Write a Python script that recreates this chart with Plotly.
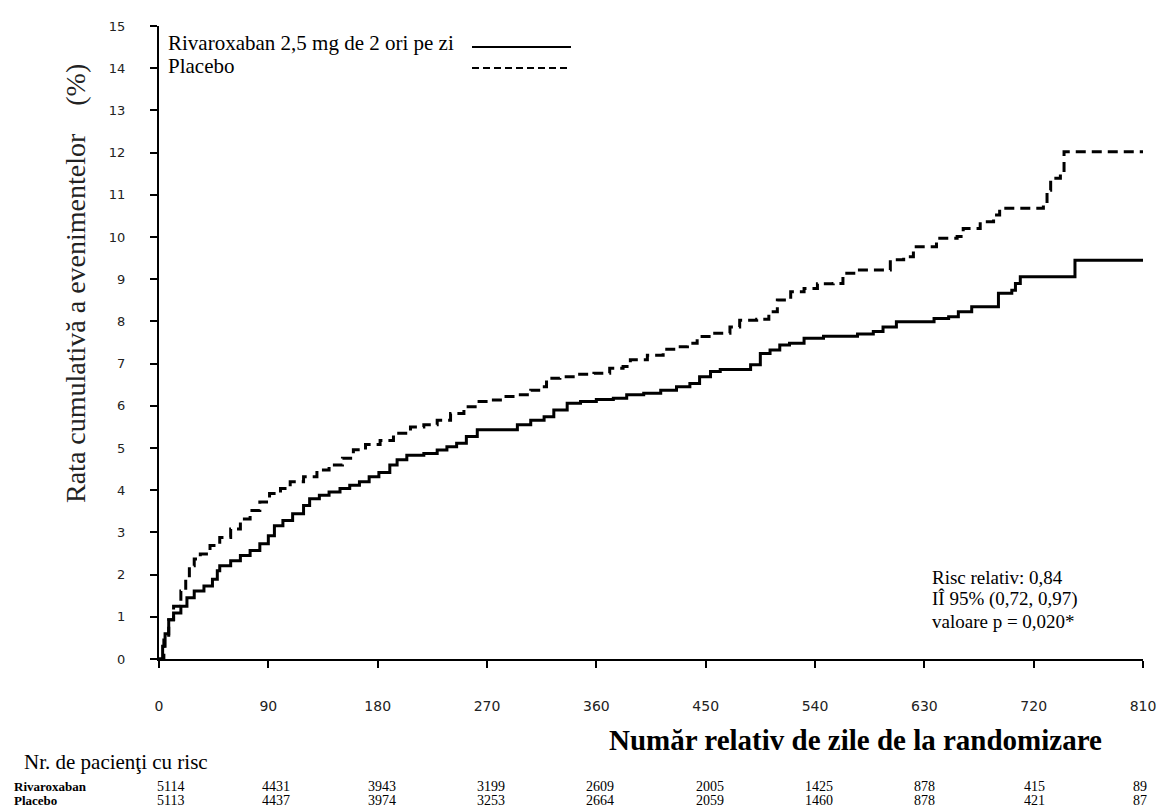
import plotly.graph_objects as go

# ---------------- data ----------------
riva_days = [0, 3, 5, 8, 12, 18, 23, 29, 37, 44, 48, 50, 59, 67, 75, 83, 90, 95, 102, 110,
             119, 124, 132, 140, 149, 157, 165, 173, 181, 190, 196, 204, 218, 229, 237, 245,
             253, 262, 295, 306, 317, 325, 336, 347, 360, 374, 385, 399, 413, 426, 437, 445,
             454, 462, 487, 495, 503, 511, 519, 531, 547, 575, 588, 596, 607, 638, 650, 658,
             669, 691, 702, 705, 709, 754, 810]
riva_rate = [0, 0.30, 0.60, 0.93, 1.09, 1.25, 1.45, 1.61, 1.73, 1.89, 2.09, 2.21, 2.33, 2.45,
             2.57, 2.73, 2.92, 3.16, 3.28, 3.44, 3.64, 3.80, 3.88, 3.96, 4.04, 4.12, 4.20, 4.32,
             4.42, 4.60, 4.72, 4.83, 4.87, 4.95, 5.03, 5.11, 5.27, 5.43, 5.55, 5.66, 5.74, 5.90,
             6.06, 6.10, 6.15, 6.18, 6.26, 6.30, 6.37, 6.45, 6.53, 6.69, 6.81, 6.86, 6.97, 7.24,
             7.32, 7.44, 7.48, 7.60, 7.65, 7.70, 7.76, 7.87, 7.99, 8.07, 8.11, 8.23, 8.35, 8.67,
             8.74, 8.90, 9.06, 9.45, 9.45]

plac_days = [0, 4, 8, 12, 18, 22, 25, 29, 34, 42, 50, 59, 67, 75, 83, 91, 100, 108, 119, 130,
             140, 151, 160, 170, 182, 193, 207, 218, 229, 240, 251, 262, 273, 284, 295, 306, 314,
             319, 330, 344, 358, 371, 382, 388, 402, 415, 426, 435, 443, 456, 470, 478, 492, 502,
             509, 520, 531, 542, 555, 563, 575, 602, 613, 621, 640, 657, 662, 676, 687, 692, 728,
             731, 734, 742, 745, 810]
plac_rate = [0, 0.45, 0.93, 1.25, 1.61, 1.97, 2.21, 2.37, 2.49, 2.69, 2.88, 3.08, 3.32, 3.52,
             3.72, 3.92, 4.04, 4.20, 4.32, 4.48, 4.60, 4.76, 4.96, 5.08, 5.18, 5.35, 5.50, 5.55,
             5.66, 5.82, 5.98, 6.10, 6.14, 6.22, 6.26, 6.37, 6.45, 6.65, 6.69, 6.75, 6.77, 6.89,
             6.93, 7.09, 7.20, 7.34, 7.40, 7.48, 7.64, 7.72, 7.87, 8.03, 8.05, 8.23, 8.51, 8.70,
             8.78, 8.89, 8.90, 9.14, 9.22, 9.46, 9.53, 9.77, 9.97, 10.01, 10.20, 10.36, 10.52,
             10.68, 10.84, 11.11, 11.39, 11.51, 12.02, 12.02]

x_ticks = [0, 90, 180, 270, 360, 450, 540, 630, 720, 810]
y_ticks = list(range(0, 16))
riva_at_risk = [5114, 4431, 3943, 3199, 2609, 2005, 1425, 878, 415, 89]
plac_at_risk = [5113, 4437, 3974, 3253, 2664, 2059, 1460, 878, 421, 87]

legend_riva = "Rivaroxaban 2,5 mg de 2 ori pe zi"
legend_plac = "Placebo"
y_title = "Rata cumulativă a evenimentelor    (%)"
x_title = "Număr relativ de zile de la randomizare"
risk_title = "Nr. de pacienţi cu risc"
stats_lines = ["Risc relativ: 0,84", "IÎ 95% (0,72, 0,97)", "valoare p = 0,020*"]

# ---------------- layout helpers (pixel -> paper) ----------------
W, H = 1174, 808
L, R, T, B = 159, 31, 26, 149
PW, PH = W - L - R, H - T - B


def px(x):
    return (x - L) / PW


def py(y):
    return (H - B - y) / PH


SERIF = "Liberation Serif, Times New Roman, serif"
TICKF = "DejaVu Sans, Verdana, sans-serif"

fig = go.Figure()
fig.add_trace(go.Scatter(x=riva_days, y=riva_rate, mode="lines", line_shape="hv",
                         line=dict(color="black", width=3), showlegend=False))
fig.add_trace(go.Scatter(x=plac_days, y=plac_rate, mode="lines", line_shape="hv",
                         line=dict(color="black", width=3, dash="10px,6px"), showlegend=False))

ann = []
# legend
ann.append(dict(text=legend_riva, x=px(166), y=py(43), xref="paper", yref="paper",
                xanchor="left", yanchor="middle", showarrow=False,
                font=dict(family=SERIF, size=21, color="black")))
ann.append(dict(text=legend_plac, x=px(166), y=py(66), xref="paper", yref="paper",
                xanchor="left", yanchor="middle", showarrow=False,
                font=dict(family=SERIF, size=21, color="black")))
# titles
ann.append(dict(text=y_title, x=px(75), y=py(284), xref="paper", yref="paper",
                textangle=-90, xanchor="center", yanchor="middle", showarrow=False,
                font=dict(family=SERIF, size=28, color="#222")))
ann.append(dict(text="<b>" + x_title + "</b>", x=px(855), y=py(740), xref="paper", yref="paper",
                xanchor="center", yanchor="middle", showarrow=False,
                font=dict(family=SERIF, size=29, color="black")))
ann.append(dict(text=risk_title, x=px(22), y=py(762), xref="paper", yref="paper",
                xanchor="left", yanchor="middle", showarrow=False,
                font=dict(family=SERIF, size=21, color="black")))
# stats
for i, s in enumerate(stats_lines):
    ann.append(dict(text=s, x=px(930), y=py(577 + 22 * i), xref="paper", yref="paper",
                    xanchor="left", yanchor="middle", showarrow=False,
                    font=dict(family=SERIF, size=19, color="black")))
# at-risk table
for lab, vals, yy in [("Rivaroxaban", riva_at_risk, 786), ("Placebo", plac_at_risk, 800)]:
    ann.append(dict(text="<b>" + lab + "</b>", x=px(12), y=py(yy), xref="paper", yref="paper",
                    xanchor="left", yanchor="middle", showarrow=False,
                    font=dict(family=SERIF, size=13, color="black")))
    for d, v in zip(x_ticks, vals):
        ann.append(dict(text=str(v), x=d, y=py(yy), xref="x", yref="paper",
                        xanchor="left", yanchor="middle", showarrow=False,
                        xshift=-4 * len(str(d)),
                        font=dict(family=SERIF, size=14, color="black")))

shapes = [
    dict(type="line", xref="paper", yref="paper", x0=px(472), x1=px(571), y0=py(47), y1=py(47),
         line=dict(color="black", width=2)),
    dict(type="line", xref="paper", yref="paper", x0=px(472), x1=px(571), y0=py(68), y1=py(68),
         line=dict(color="black", width=2, dash="7px,4px")),
]

fig.update_layout(
    width=W, height=H,
    margin=dict(l=L, r=R, t=T, b=B, pad=0),
    paper_bgcolor="white", plot_bgcolor="white",
    annotations=ann, shapes=shapes,
    showlegend=False,
)
fig.update_xaxes(range=[0, 810], tickvals=x_ticks, ticktext=[str(t) for t in x_ticks],
                 showline=True, linecolor="black", linewidth=2, showgrid=False, zeroline=False,
                 ticks="outside", ticklen=7, tickwidth=2, tickcolor="black",
                 ticklabelstandoff=26,
                 tickfont=dict(family=TICKF, size=14, color="#222"))
fig.update_yaxes(range=[0, 15], tickvals=y_ticks,
                 showline=True, linecolor="black", linewidth=2, showgrid=False, zeroline=False,
                 ticks="outside", ticklen=7, tickwidth=2, tickcolor="black",
                 ticklabelstandoff=22,
                 tickfont=dict(family=TICKF, size=13, color="#222"))

fig.write_html("out.html", config={"displayModeBar": False},
               post_script="document.body.style.margin='0';document.body.style.overflow='hidden';")
